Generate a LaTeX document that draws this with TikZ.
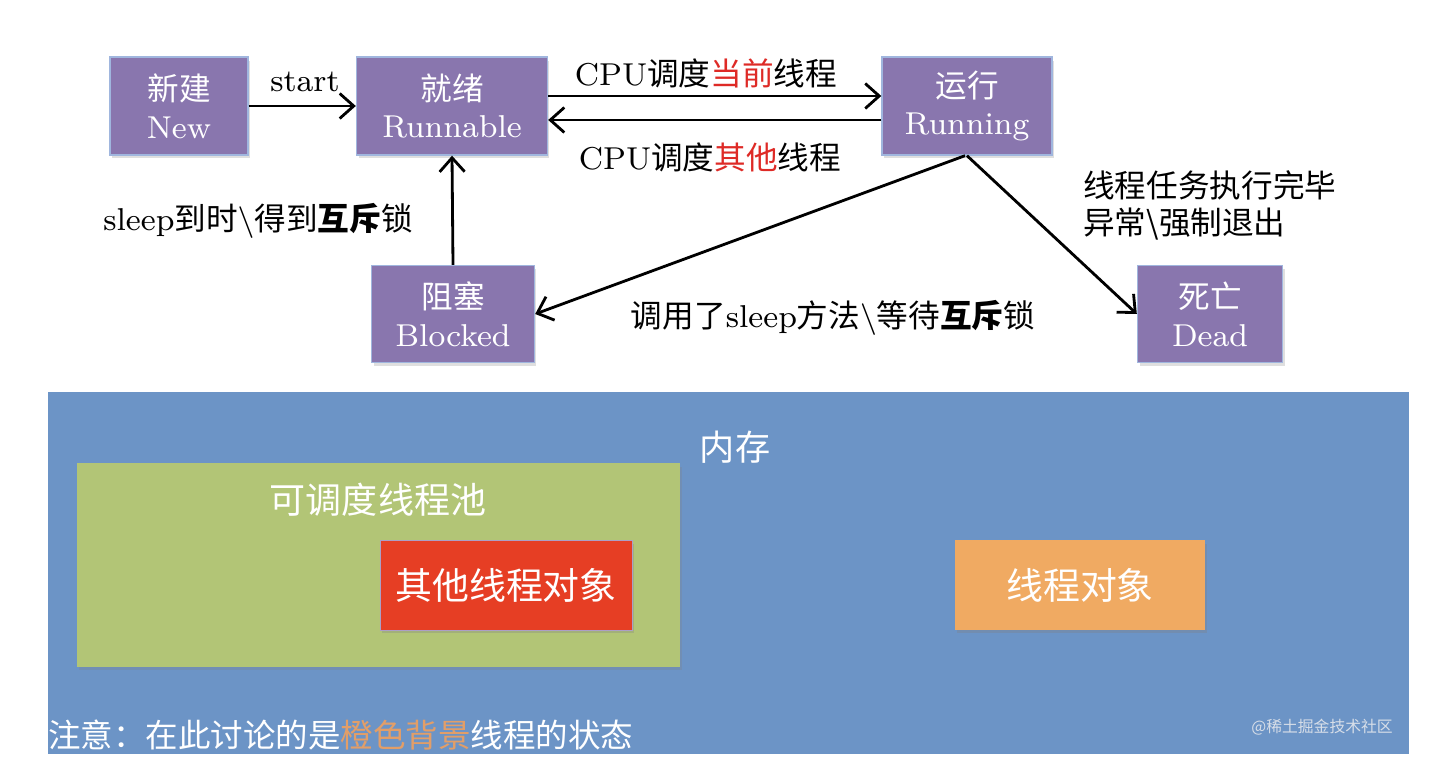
\documentclass[tikz,border=0pt]{standalone}
\usepackage{fontspec}
\setmainfont{lmroman8-regular.otf}[BoldFont=lmroman8-bold.otf]
\newfontfamily\zh{Noto Sans CJK SC}
\usetikzlibrary{arrows.meta, positioning, calc, shadows}
\definecolor{statepurple}{RGB}{137,118,174}
\definecolor{stateedge}{RGB}{160,182,222}
\definecolor{memblue}{RGB}{108,148,198}
\definecolor{poolgreen}{RGB}{178,197,118}
\definecolor{otherred}{RGB}{230,62,36}
\definecolor{selforange}{RGB}{240,170,98}
\definecolor{hotred}{RGB}{222,42,38}
\definecolor{noteorange}{RGB}{226,158,104}
\definecolor{markgray}{RGB}{215,222,232}
\newcommand{\zhb}[1]{{\zh\bfseries #1}}
\newcommand{\zhred}[1]{{\zh\color{hotred}#1}}

\tikzset{
  statebox/.style={draw=stateedge, line width=0.8pt, fill=statepurple, text=white,
    align=center, font=\fontsize{18}{21.5}\selectfont,
    drop shadow={opacity=0.25, shadow xshift=0.04cm, shadow yshift=-0.07cm}},
  trans/.style={-{Straight Barb[length=2.8mm, width=5mm]}, line width=1.6pt},
  lbl/.style={font=\fontsize{18}{22}\selectfont, inner sep=0pt},
  objbox/.style={text=white, font=\zh\fontsize{21}{25}\selectfont,
    drop shadow={opacity=0.3, shadow xshift=0.04cm, shadow yshift=-0.07cm}},
}

\begin{document}
\begin{tikzpicture}[x=0.02cm, y=-0.02cm]
  \fill[white] (0,0) rectangle (1456,780);
  \useasboundingbox (0,0) rectangle (1456,780);

  % states
  \node[statebox, minimum width=2.76cm, minimum height=1.96cm] (new) at (179,106)
    {{\zh 新建}\\New};
  \node[statebox, minimum width=3.82cm, minimum height=1.96cm] (runnable) at (452,106)
    {{\zh 就绪}\\Runnable};
  \node[statebox, minimum width=3.4cm, minimum height=1.96cm] (running) at (967,106)
    {{\zh 运行}\\Running};
  \node[statebox, minimum width=3.26cm, minimum height=1.94cm] (blocked) at (453,314)
    {{\zh 阻塞}\\Blocked};
  \node[statebox, minimum width=2.9cm, minimum height=1.94cm] (dead) at (1210,314)
    {{\zh 死亡}\\Dead};

  % transitions
  \draw[trans] (new) -- (runnable);
  \draw[trans] ([yshift=0.2cm]runnable.east) -- ([yshift=0.2cm]running.west);
  \draw[trans] ([yshift=-0.28cm]running.west) -- ([yshift=-0.28cm]runnable.east);
  \draw[trans] (blocked.north) -- (runnable.south);
  \draw[trans] ([xshift=-0.04cm]running.south) -- (blocked.east);
  \draw[trans] (running.south) -- (dead.west);

  \node[lbl] (startlbl) at (305,82) {start};
  \node[lbl] (cpucur) at (706,73) {CPU{\zh 调度}\zhred{当前}{\zh 线程}};
  \node[lbl] (cpuoth) at (710,157) {CPU{\zh 调度}\zhred{其他}{\zh 线程}};
  \node[lbl] (wakelbl) at (258,221) {sleep{\zh 到时}\textbackslash{\zh 得到}\zhb{互斥}{\zh 锁}};
  \node[lbl] (waitlbl) at (833,318) {{\zh 调用了}sleep{\zh 方法}\textbackslash{\zh 等待}\zhb{互斥}{\zh 锁}};
  \node[lbl, anchor=west, align=left, font=\zh\fontsize{18}{21}\selectfont] (endlbl) at (1083,205)
    {线程任务执行完毕\\异常\textbackslash 强制退出};

  % memory
  \node[fill=memblue, minimum width=27.22cm, minimum height=7.24cm, inner sep=0pt] (mem) at (728.5,573) {};
  \node[text=white, font=\zh\fontsize{20}{24}\selectfont] (memlbl) at (735,447) {内存};
  \node[fill=poolgreen, minimum width=12.06cm, minimum height=4.08cm, inner sep=0pt,
    drop shadow={opacity=0.25, shadow xshift=0.04cm, shadow yshift=-0.07cm}] (pool) at (378.5,565) {};
  \node[text=white, font=\zh\fontsize{20.5}{24}\selectfont] (poollbl) at (378,500) {可调度线程池};
  \node[objbox, fill=otherred, draw=statepurple!70, minimum width=5.04cm, minimum height=1.8cm] (other) at (506,585) {其他线程对象};
  \node[objbox, fill=selforange, minimum width=5cm, minimum height=1.8cm] (self) at (1080,585) {线程对象};

  \node[anchor=west, inner sep=0pt, text=white, font=\zh\fontsize{18.5}{22}\selectfont] (note) at (48,735)
    {注意：在此讨论的是{\color{noteorange}橙色背景}线程的状态};
  \node[text=markgray, font=\zh\fontsize{9}{11}\selectfont] (mark) at (1322,727) {@稀土掘金技术社区};
\end{tikzpicture}
\end{document}
